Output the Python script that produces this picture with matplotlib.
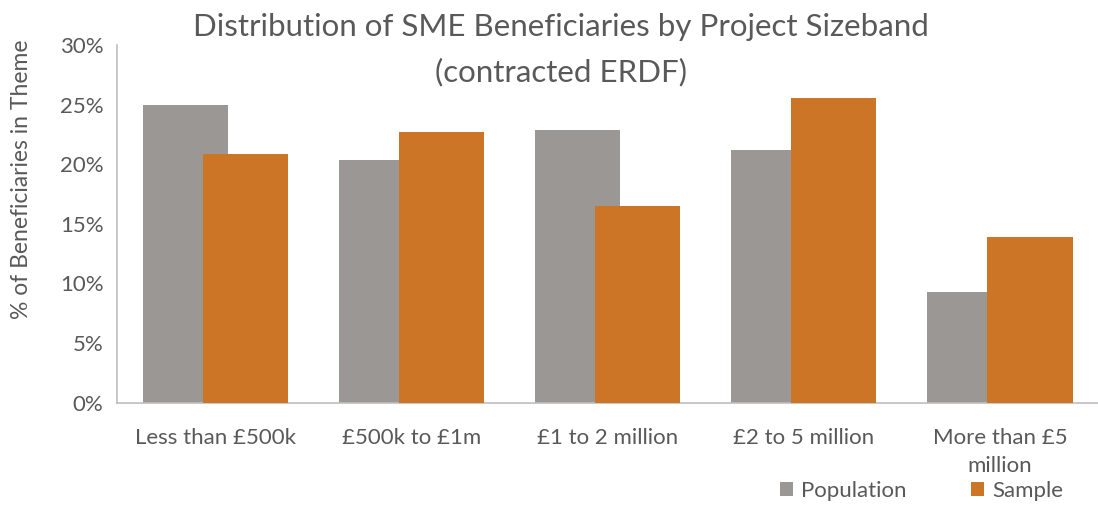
import matplotlib
matplotlib.use("Agg")
import matplotlib.pyplot as plt
import numpy as np
from matplotlib.patches import Patch

# ----------------------------
# Data
# ----------------------------
categories = ["Less than £500k", "£500k to £1m", "£1 to 2 million",
              "£2 to 5 million", "More than £5\nmillion"]
population = [25.0, 20.4, 22.9, 21.2, 9.3]
sample = [20.9, 22.7, 16.5, 25.6, 13.9]
yticks = [0, 5, 10, 15, 20, 25, 30]

GRAY = "#9B9794"
ORANGE = "#CC7527"
TEXT = "#595959"

plt.rcParams["font.family"] = ["Lato", "DejaVu Sans"]

fig = plt.figure(figsize=(10.98, 5.07), dpi=100)
ax = fig.add_axes([0.107, 0.206, 0.893, 0.705])

x = np.arange(len(categories))
width = 0.434
offset = 0.153

ax.bar(x - offset, population, width, color=GRAY, zorder=2)
ax.bar(x + offset, sample, width, color=ORANGE, zorder=3)

ax.set_xlim(-0.5, len(categories) - 0.5)
ax.set_ylim(0, 30)
ax.set_yticks(yticks)
ax.set_yticklabels([f"{v}%" for v in yticks])
ax.set_xticks(x)
ax.set_xticklabels(categories, linespacing=1.55)

ax.tick_params(axis="both", length=0, colors=TEXT, labelsize=16)
ax.tick_params(axis="x", pad=18)
ax.tick_params(axis="y", pad=10)

for side in ["top", "right"]:
    ax.spines[side].set_visible(False)
for side in ["left", "bottom"]:
    ax.spines[side].set_color("#BFBFBF")
    ax.spines[side].set_linewidth(1.2)

fig.text(0.511, 0.946, "Distribution of SME Beneficiaries by Project Sizeband",
         ha="center", va="center", fontsize=22.5, color=TEXT)
fig.text(0.511, 0.858, "(contracted ERDF)",
         ha="center", va="center", fontsize=22.5, color=TEXT)

fig.text(0.02, 1 - 179 / 507, "% of Beneficiaries in Theme", rotation=90,
         ha="center", va="center", fontsize=16.5, color=TEXT)

handles = [Patch(facecolor=GRAY, label="Population"),
           Patch(facecolor=ORANGE, label="Sample")]
fig.legend(handles=handles, loc="center", bbox_to_anchor=(0.839, 1 - 491 / 507),
           ncol=2, frameon=False, fontsize=16, handlelength=0.6,
           handleheight=0.6, handletextpad=0.35, columnspacing=2.9,
           labelcolor=TEXT)

fig.savefig("out.png", dpi=100)
